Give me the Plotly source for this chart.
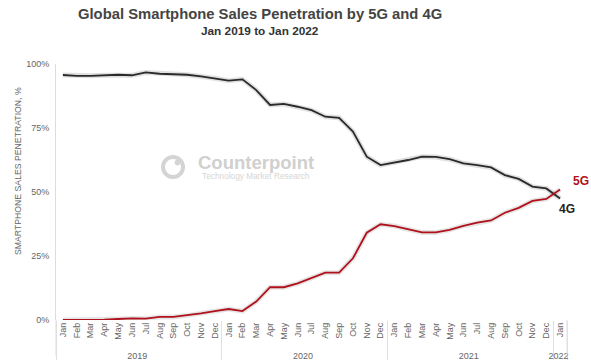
import plotly.graph_objects as go

years = ["2019"] * 12 + ["2020"] * 12 + ["2021"] * 12 + ["2022"]
months = ["Jan", "Feb", "Mar", "Apr", "May", "Jun", "Jul", "Aug", "Sep", "Oct", "Nov", "Dec"] * 3 + ["Jan"]

g4 = [95.7, 95.4, 95.4, 95.6, 95.8, 95.6, 96.7, 96.2, 96.1, 95.8, 95.2, 94.4,
      93.5, 94.0, 89.8, 84.0, 84.4, 83.3, 82.0, 79.4, 79.0, 73.6, 63.8, 60.5,
      61.5, 62.5, 63.8, 63.7, 62.8, 61.2, 60.5, 59.6, 56.6, 55.1, 52.1, 51.4,
      47.5]
g5 = [0.0, 0.0, 0.0, 0.1, 0.4, 0.6, 0.5, 1.2, 1.2, 1.8, 2.6, 3.5,
      4.3, 3.5, 7.2, 12.8, 12.8, 14.3, 16.3, 18.5, 18.5, 24.1, 34.1, 37.4,
      36.7, 35.4, 34.2, 34.2, 35.2, 36.8, 38.0, 38.9, 41.9, 43.8, 46.5, 47.3,
      51.0]

x = [years, months]
fig = go.Figure()
# soft shadows
fig.add_trace(go.Scatter(x=x, y=g4, mode="lines", line=dict(color="rgba(0,0,0,0.12)", width=5),
                         hoverinfo="skip", showlegend=False))
fig.add_trace(go.Scatter(x=x, y=g5, mode="lines", line=dict(color="rgba(0,0,0,0.10)", width=5),
                         hoverinfo="skip", showlegend=False))
fig.add_trace(go.Scatter(x=x, y=g4, mode="lines", name="4G", line=dict(color="#2a2a2a", width=1.8)))
fig.add_trace(go.Scatter(x=x, y=g5, mode="lines", name="5G", line=dict(color="#b0111b", width=1.8)))

fig.update_layout(
    width=591, height=360,
    margin=dict(l=56, r=24, t=64, b=40),
    paper_bgcolor="white", plot_bgcolor="white",
    showlegend=False,
    font=dict(family="Liberation Sans, Arial, sans-serif", color="#555"),
)
fig.update_xaxes(
    type="multicategory", range=[-0.5, 36.5], tickangle=-90, tickfont=dict(size=9, color="#666"),
    showgrid=False, showline=False, ticks="", dividercolor="#e0e0e0", dividerwidth=1,
    automargin=False,
)
fig.update_yaxes(
    range=[0, 100], tickvals=[0, 25, 50, 75, 100], ticktext=["0%", "25%", "50%", "75%", "100%"],
    tickfont=dict(size=9, color="#666"), showgrid=False, zeroline=False,
    showline=True, linecolor="#dddddd", linewidth=1, ticks="", ticklen=0, ticklabelstandoff=4,
    automargin=False,
)
# axis line extension below and right edge divider
fig.add_shape(type="line", xref="paper", yref="paper", x0=0, x1=0, y0=0, y1=-0.14,
              line=dict(color="#dddddd", width=1))
fig.add_shape(type="line", xref="paper", yref="paper", x0=1, x1=1, y0=0, y1=-0.14,
              line=dict(color="#e0e0e0", width=1))

# y axis title
fig.add_annotation(text="SMARTPHONE SALES PENETRATION, %", xref="paper", yref="paper",
                   x=(18 - 56) / 511, y=(320 - 171) / 256, textangle=-90, showarrow=False,
                   xanchor="center", yanchor="middle", font=dict(size=8.7, color="#666"))

# titles
fig.add_annotation(text="<b>Global Smartphone Sales Penetration by 5G and 4G</b>", xref="paper", yref="paper",
                   x=(260 - 56) / 511, y=(320 - 14) / 256, showarrow=False, xanchor="center", yanchor="middle",
                   font=dict(size=14.8, color="#444"))
fig.add_annotation(text="<b>Jan 2019 to Jan 2022</b>", xref="paper", yref="paper",
                   x=(260 - 56) / 511, y=(320 - 31) / 256, showarrow=False, xanchor="center", yanchor="middle",
                   font=dict(size=11.8, color="#333"))

# watermark
fig.add_shape(type="circle", xref="paper", yref="paper",
              x0=(163 - 56) / 511, x1=(183 - 56) / 511, y0=(320 - 177) / 256, y1=(320 - 157) / 256,
              line=dict(color="#d4d4d4", width=4))
fig.add_shape(type="circle", xref="paper", yref="paper",
              x0=(175 - 56) / 511, x1=(180 - 56) / 511, y0=(320 - 165) / 256, y1=(320 - 160) / 256,
              line=dict(color="#d4d4d4", width=1), fillcolor="#d4d4d4")
fig.add_annotation(text="<b>Counterpoint</b>", xref="paper", yref="paper",
                   x=(256 - 56) / 511, y=(320 - 162) / 256, showarrow=False,
                   font=dict(size=18.5, color="#d0d0d0"), xanchor="center", yanchor="middle")
fig.add_annotation(text="Technology Market Research", xref="paper", yref="paper",
                   x=(256 - 56) / 511, y=(320 - 176) / 256, showarrow=False,
                   font=dict(size=8.3, color="#d6d6d6"), xanchor="center", yanchor="middle")

# series labels
fig.add_annotation(text="<b>5G</b>", xref="paper", yref="paper", x=(581 - 56) / 511, y=(320 - 181) / 256,
                   showarrow=False, xanchor="center", yanchor="middle", font=dict(size=12, color="#b0111b"))
fig.add_annotation(text="<b>4G</b>", xref="paper", yref="paper", x=(567 - 56) / 511, y=(320 - 209) / 256,
                   showarrow=False, xanchor="center", yanchor="middle", font=dict(size=12, color="#222"))

fig.write_html("out.html", config={"displayModeBar": False},
               post_script="document.body.style.margin='0';")
